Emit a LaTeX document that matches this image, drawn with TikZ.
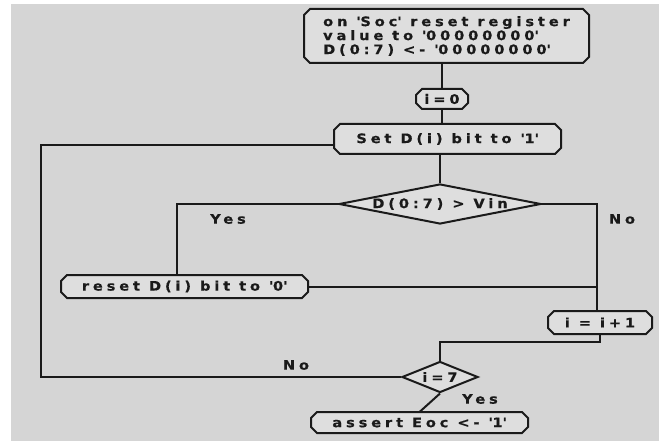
\documentclass[tikz,border=0pt]{standalone}
\usepackage{fontspec}
\newfontfamily\flowfont{DejaVu Sans}[BoldFont=* Bold, BoldFeatures={FakeStretch=1.12, FakeBold=0.6}, LetterSpace=30]
\usetikzlibrary{shapes.geometric}
\definecolor{paper}{HTML}{D5D5D5}
\definecolor{boxfill}{HTML}{DEDEDE}
\definecolor{ink}{HTML}{1A1A1A}
\newcommand{\sq}{\textquotesingle}
\def\cutboxsize{6pt}
% rectangle with small cut corners
\makeatletter
\pgfdeclareshape{cutbox}{%
  \inheritsavedanchors[from=rectangle]%
  \inheritanchorborder[from=rectangle]%
  \inheritanchor[from=rectangle]{center}%
  \inheritanchor[from=rectangle]{north}%
  \inheritanchor[from=rectangle]{south}%
  \inheritanchor[from=rectangle]{east}%
  \inheritanchor[from=rectangle]{west}%
  \inheritanchor[from=rectangle]{north east}%
  \inheritanchor[from=rectangle]{north west}%
  \inheritanchor[from=rectangle]{south east}%
  \inheritanchor[from=rectangle]{south west}%
  \inheritanchor[from=rectangle]{base}%
  \inheritanchor[from=rectangle]{mid}%
  \inheritanchor[from=rectangle]{text}%
  \backgroundpath{%
    \southwest \edef\cb@xa{\the\pgf@x}\edef\cb@ya{\the\pgf@y}%
    \northeast \edef\cb@xb{\the\pgf@x}\edef\cb@yb{\the\pgf@y}%
    \pgfmathsetlengthmacro\cb@c{\cutboxsize}%
    \pgfpathmoveto{\pgfpoint{\cb@xa+\cb@c}{\cb@ya}}%
    \pgfpathlineto{\pgfpoint{\cb@xb-\cb@c}{\cb@ya}}%
    \pgfpathlineto{\pgfpoint{\cb@xb}{\cb@ya+\cb@c}}%
    \pgfpathlineto{\pgfpoint{\cb@xb}{\cb@yb-\cb@c}}%
    \pgfpathlineto{\pgfpoint{\cb@xb-\cb@c}{\cb@yb}}%
    \pgfpathlineto{\pgfpoint{\cb@xa+\cb@c}{\cb@yb}}%
    \pgfpathlineto{\pgfpoint{\cb@xa}{\cb@yb-\cb@c}}%
    \pgfpathlineto{\pgfpoint{\cb@xa}{\cb@ya+\cb@c}}%
    \pgfpathclose
  }%
}
\makeatother
\begin{document}
\begin{tikzpicture}[x=1pt,y=-1pt,
  every node/.style={font=\flowfont\bfseries\fontsize{13}{14}\selectfont, text=ink},
  procbox/.style={cutbox, draw=ink, line width=2pt, fill=boxfill, inner sep=0pt},
  testbox/.style={diamond, draw=ink, line width=2pt, fill=boxfill, inner sep=0pt},
  flow/.style={draw=ink, line width=2pt},
  lbl/.style={inner sep=0pt}]
  % page and grey panel
  \useasboundingbox (0,0) rectangle (659,441);
  \fill[white] (0,0) rectangle (659,441);
  \fill[paper] (11,4) rectangle (659,441);

  % steps
  \node[procbox, minimum width=283pt, minimum height=52pt, align=left] (top) at (446.5,36)
    {on \sq Soc\sq{} reset register\\value to \sq 00000000\sq\\D(0:7) <- \sq 00000000\sq};
  \node[procbox, minimum width=50pt, minimum height=18pt] (i0) at (442,99) {i=0};
  \node[procbox, minimum width=225pt, minimum height=28pt] (set) at (447.5,139) {Set D(i) bit to \sq 1\sq};
  \node[testbox, shape aspect=5, minimum width=202pt, minimum height=40pt] (dec1) at (440,204) {D(0:7) > Vin};
  \node[procbox, minimum width=245pt, minimum height=21pt] (reset) at (184.5,286.5) {reset D(i) bit to \sq 0\sq};
  \node[procbox, minimum width=102pt, minimum height=21pt] (inc) at (600,322.5) {i = i+1};
  \node[testbox, shape aspect=2.4, minimum width=76pt, minimum height=31pt] (dec2) at (440,377) {i=7};
  \node[procbox, minimum width=215pt, minimum height=19pt] (assert) at (419.5,422.5) {assert Eoc <- \sq 1\sq};

  % branch labels
  \node[lbl] (yes1) at (228,219) {Yes};
  \node[lbl] (no1) at (622,219) {No};
  \node[lbl] (no2) at (296,365) {No};
  \node[lbl] (yes2) at (480,399) {Yes};

  % helper points for the loops
  \coordinate (L) at (41,145);
  \coordinate (R) at (597,204);
  \coordinate (Y) at (177,204);

  % connectors
  \draw[flow] (i0.north |- top.south) -- (i0.north);
  \draw[flow] (i0.south) -- (i0.south |- set.north);
  \draw[flow] (dec1.north |- set.south) -- (dec1.north);
  \draw[flow] (dec1.west) -- (Y) -- (Y |- reset.north);
  \draw[flow] (dec1.east) -- (R) -- (R |- inc.north);
  \draw[flow] (reset.east) -- (reset.east -| R);
  \draw[flow] (inc.south) -- ++(0,8) -| (dec2.north);
  \draw[flow] (dec2.south) -- (assert.north);
  \draw[flow] (dec2.west) -| (L) -- (L -| set.west);
\end{tikzpicture}
\end{document}
